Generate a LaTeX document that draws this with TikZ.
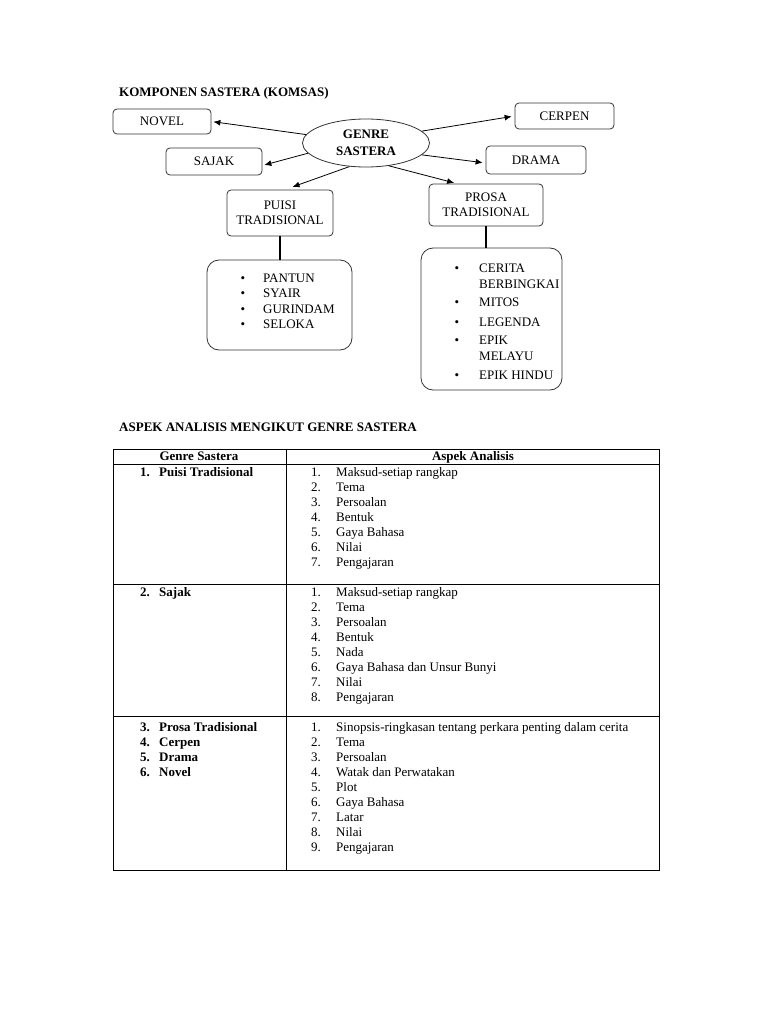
\documentclass[tikz,border=0pt]{standalone}
\usepackage{fontspec}
\setmainfont{Liberation Serif}
\usetikzlibrary{shapes.geometric, arrows.meta}

\tikzset{
  kotak/.style={draw=black!80, line width=0.8pt, rounded corners=4pt, align=center, inner sep=1pt},
  senarai/.style={draw=black!80, line width=0.8pt, rounded corners=12pt},
  panah/.style={-{Latex[length=7pt, width=6pt]}, line width=0.8pt},
  tebal/.style={line width=2.6pt},
  garis/.style={line width=1pt},
  tebalhuruf/.style={font=\fontsize{13}{15}\selectfont\bfseries},
}

\begin{document}
\begin{tikzpicture}[x=1pt, y=-1pt, font=\fontsize{13}{15}\selectfont]
  \useasboundingbox (0,0) rectangle (768,1024);
  % tajuk
  \node[anchor=base west, inner sep=0pt, tebalhuruf] (tajuk1) at (119,97) {KOMPONEN SASTERA (KOMSAS)};

  % peta konsep
  \node[draw=black!80, line width=0.8pt, ellipse, minimum width=127pt, minimum height=48pt, align=center, inner sep=0pt, font=\fontsize{13}{17}\selectfont\bfseries] (genre) at (366,143) {GENRE\\SASTERA};
  \node[kotak, minimum width=98pt, minimum height=25pt] (novel) at (162,121.5) {NOVEL};
  \node[kotak, minimum width=99pt, minimum height=26pt] (cerpen) at (564.5,116) {CERPEN};
  \node[kotak, minimum width=96pt, minimum height=27pt] (sajak) at (214,161.5) {SAJAK};
  \node[kotak, minimum width=100pt, minimum height=28pt] (drama) at (536,160) {DRAMA};
  \node[kotak, minimum width=106pt, minimum height=46pt] (puisi) at (280,213) {PUISI\\TRADISIONAL};
  \node[kotak, minimum width=114pt, minimum height=42pt] (prosa) at (486,205) {PROSA\\TRADISIONAL};

  \draw[panah, shorten >=2pt] (genre.172) -- (novel.east);
  \draw[panah, shorten >=3pt] (genre.12) -- (cerpen.west);
  \draw[panah, shorten >=2pt] (genre.190) -- ([yshift=-4pt]sajak.east);
  \draw[panah, shorten >=3pt] (genre.-12) -- ([yshift=-3pt]drama.west);
  \draw[panah, shorten >=8pt] (genre.235) -- ([xshift=5pt]puisi.north);
  \draw[panah, shorten >=3pt] (genre.-45) -- ([xshift=-29pt]prosa.north);

  % senarai puisi
  \node[senarai, minimum width=145pt, minimum height=90pt] (kpuisi) at (279.5,305) {};
  \draw[tebal] (puisi.south) -- (puisi.south |- kpuisi.north);
  \foreach \t [count=\i] in {PANTUN, SYAIR, GURINDAM, SELOKA} {
    \node[anchor=base west, inner sep=0pt] (p\i) at (263,282+15.6*\i-15.6) {\t};
    \node[anchor=base, inner sep=0pt] (pb\i) at (243,282+15.6*\i-15.6) {\textbullet};
  }

  % senarai prosa
  \node[senarai, minimum width=141pt, minimum height=142pt] (kprosa) at (491.5,319) {};
  \draw[tebal] (prosa.south) -- (prosa.south |- kprosa.north);
  \foreach \y/\t [count=\i] in {272/CERITA, 288/BERBINGKAI, 306/MITOS, 326/LEGENDA, 344/EPIK, 360/MELAYU, 379/EPIK HINDU} {
    \node[anchor=base west, inner sep=0pt] (r\i) at (479,\y) {\t};
  }
  \foreach \y [count=\i] in {272, 306, 326, 344, 379} {
    \node[anchor=base, inner sep=0pt] (rb\i) at (457,\y) {\textbullet};
  }

  % jadual
  \node[anchor=base west, inner sep=0pt, tebalhuruf] (tajuk2) at (119,431) {ASPEK ANALISIS MENGIKUT GENRE SASTERA};
  \draw[garis] (113,449) rectangle (659,870);
  \draw[garis] (286,449) -- (286,870);
  \foreach \y in {464, 584, 716} {
    \draw[garis] (113,\y) -- (659,\y);
  }
  \node[anchor=base, inner sep=0pt, tebalhuruf] (h1) at (199,460) {Genre Sastera};
  \node[anchor=base, inner sep=0pt, tebalhuruf] (h2) at (473,460) {Aspek Analisis};

  % lajur genre
  \foreach \y/\n/\t in {476/1/Puisi Tradisional, 596/2/Sajak, 731/3/Prosa Tradisional, 746/4/Cerpen, 761/5/Drama, 776/6/Novel} {
    \node[anchor=base east, inner sep=0pt, tebalhuruf] (gn\n) at (150,\y) {\n.};
    \node[anchor=base west, inner sep=0pt, tebalhuruf] (g\n) at (159,\y) {\t};
  }

  % lajur aspek
  \foreach \t [count=\i] in {Maksud-setiap rangkap, Tema, Persoalan, Bentuk, Gaya Bahasa, Nilai, Pengajaran} {
    \node[anchor=base east, inner sep=0pt] (an\i) at (321,476+15*\i-15) {\i.};
    \node[anchor=base west, inner sep=0pt] (a\i) at (336,476+15*\i-15) {\t};
  }
  \foreach \t [count=\i] in {Maksud-setiap rangkap, Tema, Persoalan, Bentuk, Nada, Gaya Bahasa dan Unsur Bunyi, Nilai, Pengajaran} {
    \node[anchor=base east, inner sep=0pt] (bn\i) at (321,596+15*\i-15) {\i.};
    \node[anchor=base west, inner sep=0pt] (b\i) at (336,596+15*\i-15) {\t};
  }
  \foreach \t [count=\i] in {Sinopsis-ringkasan tentang perkara penting dalam cerita, Tema, Persoalan, Watak dan Perwatakan, Plot, Gaya Bahasa, Latar, Nilai, Pengajaran} {
    \node[anchor=base east, inner sep=0pt] (cn\i) at (321,731+15*\i-15) {\i.};
    \node[anchor=base west, inner sep=0pt] (c\i) at (336,731+15*\i-15) {\t};
  }
\end{tikzpicture}
\end{document}
